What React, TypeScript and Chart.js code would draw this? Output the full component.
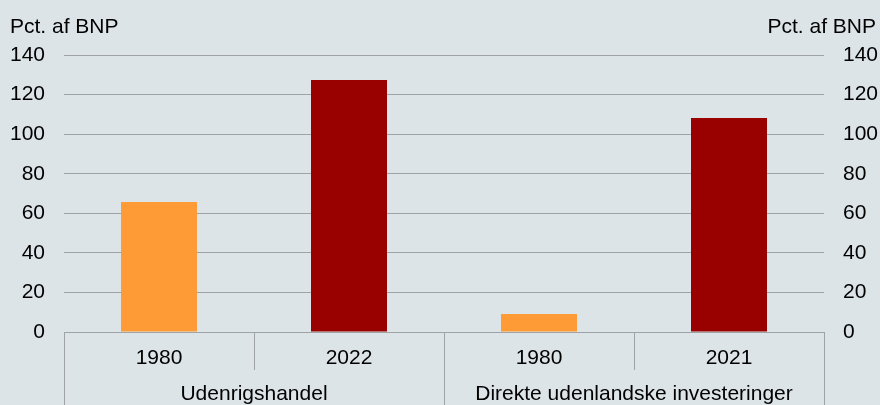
import React, { useEffect, useRef } from "react";
import { Chart, registerables } from "chart.js";

Chart.register(...registerables);

const years = ["1980", "2022", "1980", "2021"];
const groups = ["Udenrigshandel", "Direkte udenlandske investeringer"];
const groupSpans = [2, 2];
const values = [65.7, 127.4, 9.1, 108.1];
const barColors = ["#ff9b37", "#990000", "#ff9b37", "#990000"];
const yTicks = [0, 20, 40, 60, 80, 100, 120, 140];
const axisTitle = "Pct. af BNP";

const BG = "#dce4e7";
const GRID = "#a0a3a5";
const FONT = "'Liberation Sans', Arial, sans-serif";
const FS = 21;

export default function App() {
  const ref = useRef<HTMLCanvasElement | null>(null);

  useEffect(() => {
    document.body.style.margin = "0";
    const canvas = ref.current!;
    const bgPlugin = {
      id: "bg",
      beforeDraw(chart: any) {
        const ctx = chart.ctx;
        ctx.save();
        ctx.fillStyle = BG;
        ctx.fillRect(0, 0, chart.width, chart.height);
        ctx.restore();
      },
      afterDraw(chart: any) {
        const ctx = chart.ctx;
        const area = chart.chartArea;
        const xs = chart.scales.x;
        ctx.save();
        ctx.fillStyle = "#000";
        ctx.font = `${FS}px ${FONT}`;
        ctx.textBaseline = "alphabetic";
        ctx.textAlign = "left";
        ctx.fillText(axisTitle, 10, 33);
        ctx.textAlign = "right";
        ctx.fillText(axisTitle, 876, 33);

        const step = xs.getPixelForValue(1) - xs.getPixelForValue(0);
        ctx.strokeStyle = GRID;
        ctx.lineWidth = 1;
        const y0 = Math.round(area.bottom) + 0.5;
        ctx.beginPath();
        ctx.moveTo(area.left, y0);
        ctx.lineTo(area.right, y0);
        ctx.stroke();
        ctx.textAlign = "center";
        years.forEach((yr, i) => {
          const cx = xs.getPixelForValue(i);
          ctx.fillText(yr, cx, area.bottom + 32);
        });
        let idx = 0;
        const bounds: number[] = [];
        groupSpans.forEach((span) => {
          bounds.push(idx);
          idx += span;
        });
        bounds.push(idx);
        for (let i = 0; i <= years.length; i++) {
          const x = Math.round(xs.getPixelForValue(i) - step / 2) + 0.5;
          const full = bounds.includes(i);
          ctx.beginPath();
          ctx.moveTo(x, area.bottom);
          ctx.lineTo(x, full ? chart.height : area.bottom + 38);
          ctx.stroke();
        }
        let start = 0;
        groups.forEach((g, gi) => {
          const span = groupSpans[gi];
          const cx = (xs.getPixelForValue(start) + xs.getPixelForValue(start + span - 1)) / 2;
          ctx.fillText(g, cx, area.bottom + 68);
          start += span;
        });
        ctx.restore();
      },
    };

    const chart = new Chart(canvas, {
      type: "bar",
      data: {
        labels: years.map((y, i) => `${y}-${i}`),
        datasets: [
          {
            data: values,
            backgroundColor: barColors,
            borderWidth: 0,
            barPercentage: 0.4,
            categoryPercentage: 1,
          },
        ],
      },
      options: {
        responsive: false,
        animation: false,
        devicePixelRatio: 1,
        layout: { padding: { top: 55, left: 0, right: 0, bottom: 0 } },
        plugins: { legend: { display: false }, tooltip: { enabled: false } },
        scales: {
          x: {
            offset: true,
            grid: { display: false },
            border: { display: false },
            ticks: { display: false },
            afterFit(scale: any) {
              scale.height = 73;
            },
          },
          y: {
            position: "left",
            min: 0,
            max: 140,
            afterBuildTicks(scale: any) {
              scale.ticks = yTicks.map((v) => ({ value: v }));
            },
            grid: { color: GRID, drawTicks: false, lineWidth: 1 },
            border: { display: false },
            ticks: { color: "#000", font: { family: FONT, size: FS }, padding: 19 },
            afterFit(scale: any) {
              scale.width = 64;
            },
          },
          y2: {
            position: "right",
            min: 0,
            max: 140,
            afterBuildTicks(scale: any) {
              scale.ticks = yTicks.map((v) => ({ value: v }));
            },
            grid: { display: false, drawTicks: false },
            border: { display: false },
            ticks: { color: "#000", font: { family: FONT, size: FS }, padding: 19 },
            afterFit(scale: any) {
              scale.width = 56;
            },
          },
        },
      },
      plugins: [bgPlugin],
    } as any);
    return () => chart.destroy();
  }, []);

  return <canvas ref={ref} width={880} height={405} style={{ display: "block" }} />;
}
